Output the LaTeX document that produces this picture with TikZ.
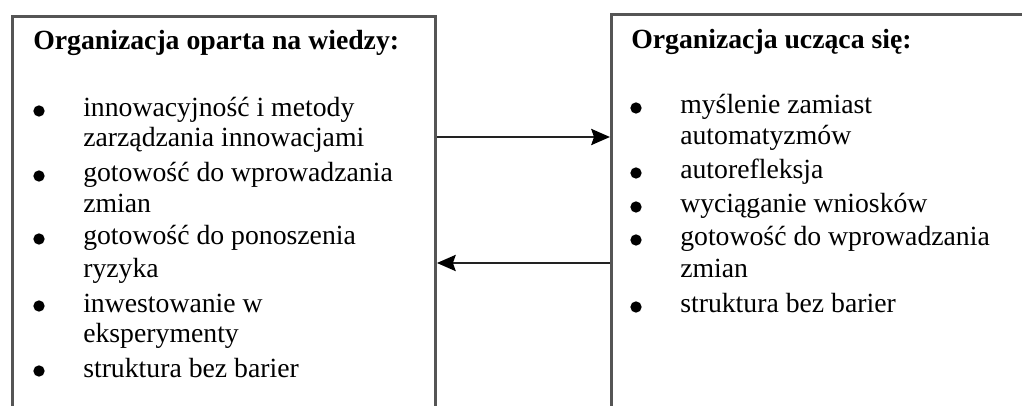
\documentclass[tikz,border=0pt]{standalone}
\usepackage{fontspec}
\setmainfont{Liberation Serif}
\newfontfamily\timesfont{Liberation Serif}
\usetikzlibrary{arrows.meta}
\definecolor{boxgray}{HTML}{555555}
\definecolor{arrgray}{HTML}{222222}
\begin{document}
\begin{tikzpicture}[x=0.75pt,y=-0.75pt,
  panel/.style={draw=boxgray,line width=2.2pt,anchor=north west,inner sep=0pt,minimum height=330pt},
  txt/.style={anchor=base west,inner sep=0pt,font=\timesfont\fontsize{20.8}{24}\selectfont},
  ttl/.style={anchor=base west,inner sep=0pt,font=\timesfont\bfseries\fontsize{20.8}{24}\selectfont},
  dot/.style={circle,fill=black,inner sep=0pt,minimum size=8.5pt},
  arr/.style={draw=arrgray,line width=2pt,-{Stealth[length=14pt,width=12pt,inset=2pt,color=black]}}]
\useasboundingbox (0,0) rectangle (1022,406);
\fill[white] (0,0) rectangle (1022,406);
\clip (0,0) rectangle (1022,406);
% boxes
\node[panel,minimum width=317.25pt] (lbox) at (11,15.5) {};
\node[panel,minimum width=330pt] (rbox) at (610,13.5) {};
% arrows
\coordinate (ya) at (0,137);
\coordinate (yb) at (0,263);
\draw[arr] (lbox.east |- ya) -- (rbox.west |- ya);
\draw[arr] (rbox.west |- yb) -- (lbox.east |- yb);
% left texts
\node[ttl] (lt) at (33,50) {Organizacja oparta na wiedzy:};
\node[dot] (lb1) at (39,111) {};
\node[txt] (l1a) at (83,117) {innowacyjność i metody};
\node[txt] (l1b) at (83,147) {zarządzania innowacjami};
\node[dot] (lb2) at (39,176) {};
\node[txt] (l2a) at (83,182) {gotowość do wprowadzania};
\node[txt] (l2b) at (83,213) {zmian};
\node[dot] (lb3) at (39,239) {};
\node[txt] (l3a) at (83,245) {gotowość do ponoszenia};
\node[txt] (l3b) at (83,278) {ryzyka};
\node[dot] (lb4) at (39,306) {};
\node[txt] (l4a) at (83,312) {inwestowanie w};
\node[txt] (l4b) at (83,343) {eksperymenty};
\node[dot] (lb5) at (39,371) {};
\node[txt] (l5a) at (83,377) {struktura bez barier};
% right texts
\node[ttl] (rt) at (631,49) {Organizacja ucząca się:};
\node[dot] (rb1) at (636,108) {};
\node[txt] (r1a) at (680,114) {myślenie zamiast};
\node[txt] (r1b) at (680,145) {automatyzmów};
\node[dot] (rb2) at (636,173) {};
\node[txt] (r2a) at (680,179) {autorefleksja};
\node[dot] (rb3) at (636,207) {};
\node[txt] (r3a) at (680,213) {wyciąganie wniosków};
\node[dot] (rb4) at (636,240) {};
\node[txt] (r4a) at (680,246) {gotowość do wprowadzania};
\node[txt] (r4b) at (680,278) {zmian};
\node[dot] (rb5) at (636,307) {};
\node[txt] (r5a) at (680,313) {struktura bez barier};
\end{tikzpicture}
\end{document}
